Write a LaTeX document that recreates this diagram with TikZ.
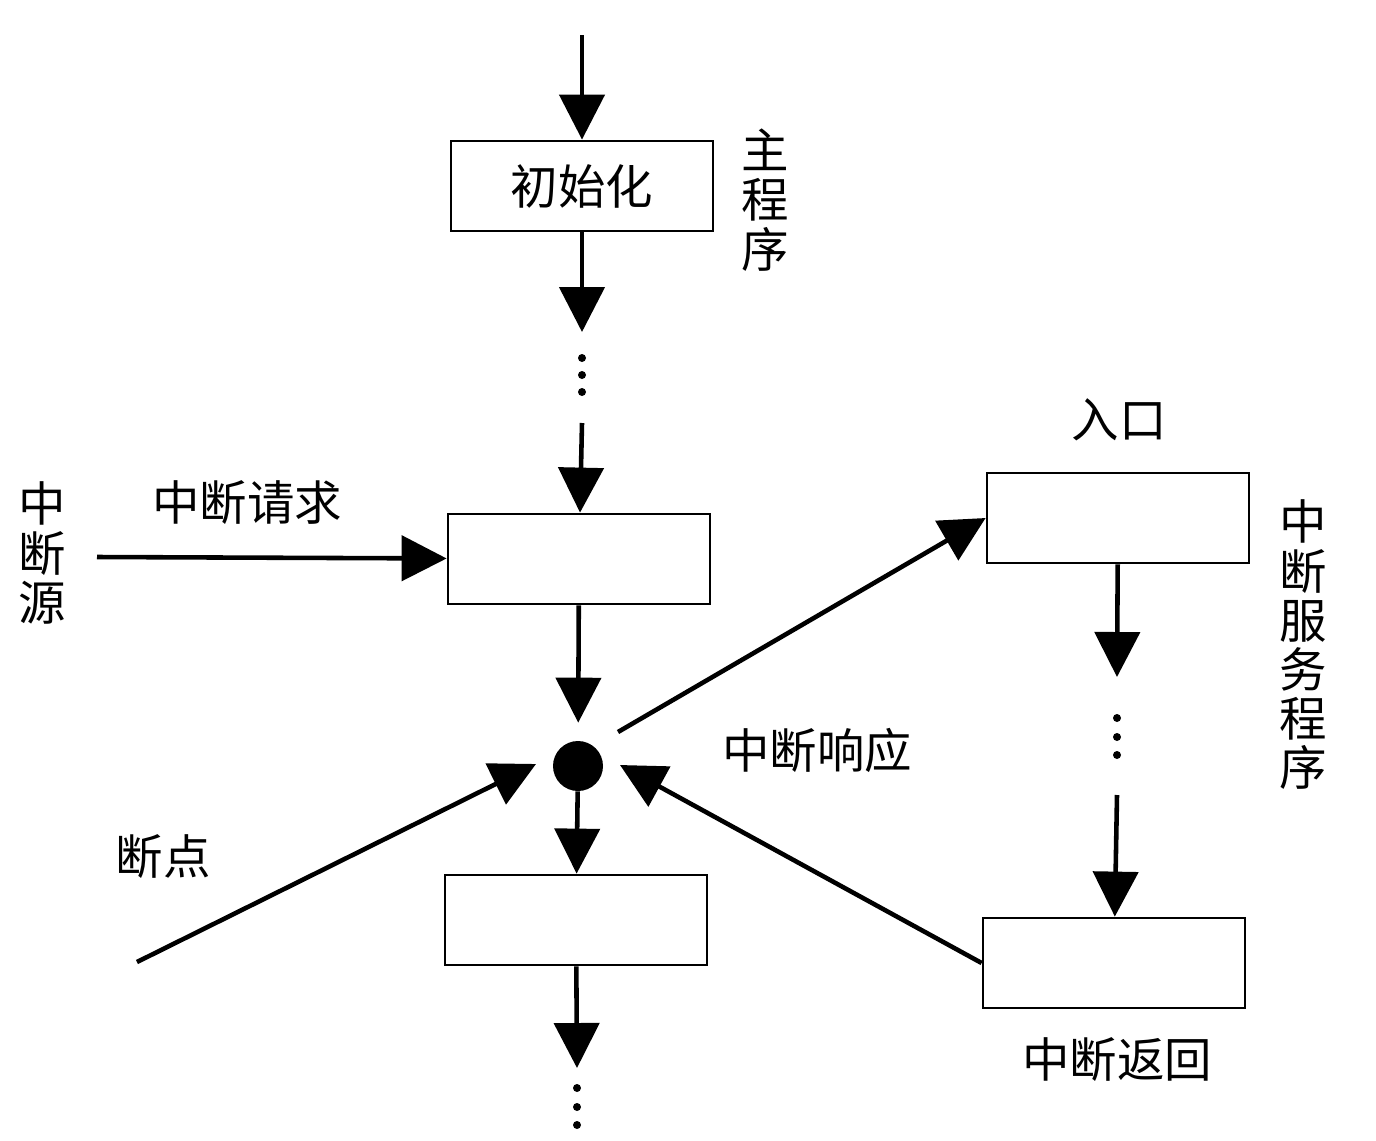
\documentclass[tikz,border=0pt]{standalone}
\usepackage{fontspec}
\newfontfamily\cjk{Noto Sans CJK SC}
\usetikzlibrary{arrows.meta}
\tikzset{
  stepbox/.style={draw, line width=1.6pt, minimum width=5.24cm, minimum height=1.8cm,
    inner sep=0pt, font=\cjk\fontsize{27}{28}\selectfont},
  lbl/.style={font=\cjk\fontsize{27}{28}\selectfont, inner sep=0pt},
  vlbl/.style={lbl, align=center},
  flow/.style={line width=2.6pt, -{Triangle[width=0.9cm,length=0.9cm]}},
}
\begin{document}
\begin{tikzpicture}[x=0.02cm,y=-0.02cm]
  \useasboundingbox (0,0) rectangle (1376,1140);
  % main program
  \node[stepbox] (init) at (582,186) {初始化};
  \node[stepbox] (req) at (579,559) {};
  \node[circle, fill, minimum size=1cm, inner sep=0pt] (dot) at (578,766) {};
  \node[stepbox] (next) at (576,920) {};
  % service routine
  \node[stepbox] (entry) at (1118,518) {};
  \node[stepbox] (ret) at (1114,963) {};
  % labels
  \node[vlbl] (mainlbl) at (765,200) {主\\程\\序};
  \node[lbl] (reqlbl) at (247,503) {中断请求};
  \node[vlbl] (srclbl) at (42,553) {中\\断\\源};
  \node[lbl] (bplbl) at (163,857) {断点};
  \node[lbl] (acklbl) at (817,750) {中断响应};
  \node[lbl] (entrylbl) at (1119,420) {入口};
  \node[vlbl] (isrlbl) at (1303,645) {中\\断\\服\\务\\程\\序};
  \node[lbl] (retlbl) at (1117,1060) {中断返回};
  % free ends
  \coordinate (top) at (582,35);
  \coordinate (dots1a) at (582,332);
  \coordinate (dots1b) at (582,423);
  \coordinate (src) at (97,557);
  \coordinate (bp) at (137,962);
  \coordinate (bpin) at (536,764);
  \coordinate (ackout) at (618,732);
  \coordinate (retin) at (620,765);
  \coordinate (dots2a) at (1117,677);
  \coordinate (dots2b) at (1117,795);
  \coordinate (dots3a) at (577,1068);
  % dots
  \foreach \y in {358,375,392} \fill (582,\y) circle (0.08cm);
  \foreach \y in {718,737,755} \fill (1117,\y) circle (0.08cm);
  \foreach \y in {1088,1107,1125} \fill (577,\y) circle (0.08cm);
  \begin{scope}[flow]
    \draw (top) -- (init);
    \draw (init) -- (dots1a);
    \draw (dots1b) -- (req);
    \draw (src) -- (req);
    \draw[shorten >=0.36cm] (req) -- (dot);
    \draw (dot) -- (next);
    \draw (next) -- (dots3a);
    \draw (bp) -- (bpin);
    \draw (ackout) -- (entry.west);
    \draw (entry) -- (dots2a);
    \draw (dots2b) -- (ret);
    \draw (ret.west) -- (retin);
  \end{scope}
\end{tikzpicture}
\end{document}
